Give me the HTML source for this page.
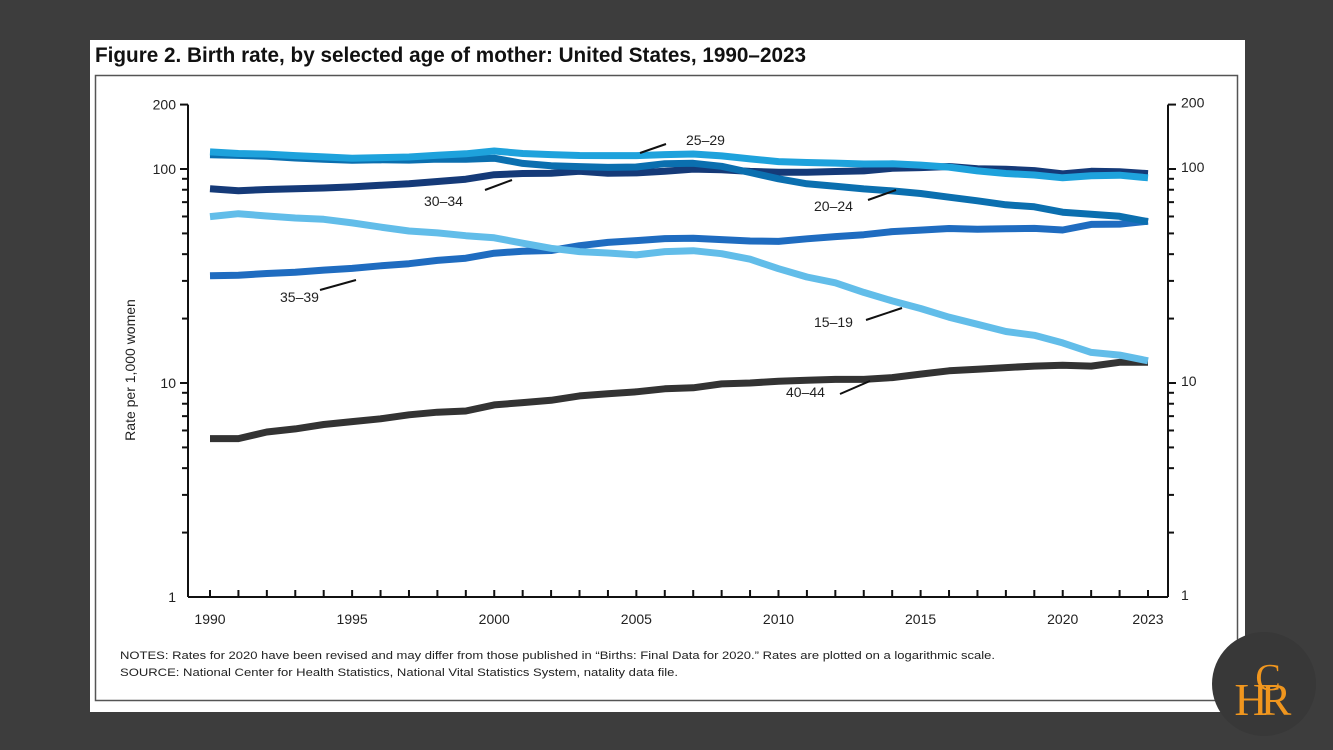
<!DOCTYPE html>
<html><head><meta charset="utf-8"><style>
html,body{margin:0;padding:0;background:#3d3d3d;}
svg{display:block;font-family:"Liberation Sans",sans-serif;}
</style></head><body>
<svg id="chart" width="1333" height="750" viewBox="0 0 1333 750">
<rect x="0" y="0" width="1333" height="750" fill="#3d3d3d"/>
<rect x="90" y="40" width="1155" height="672" fill="#fff"/>
<text x="95" y="62" font-size="21" font-weight="bold" fill="#111" textLength="711" lengthAdjust="spacingAndGlyphs">Figure 2. Birth rate, by selected age of mother: United States, 1990–2023</text>
<rect x="95.5" y="75.5" width="1142" height="625" fill="none" stroke="#555" stroke-width="1.5"/>
<g id="axes"></g>
<g id="series"></g>
<g id="labels"></g>
<text transform="translate(135,370) rotate(-90)" text-anchor="middle" font-size="14" fill="#222">Rate per 1,000 women</text>
<text x="120" y="659" font-size="11" fill="#222" textLength="875" lengthAdjust="spacingAndGlyphs">NOTES: Rates for 2020 have been revised and may differ from those published in “Births: Final Data for 2020.” Rates are plotted on a logarithmic scale.</text>
<text x="120" y="676" font-size="11" fill="#222" textLength="558" lengthAdjust="spacingAndGlyphs">SOURCE: National Center for Health Statistics, National Vital Statistics System, natality data file.</text>
<g>
<circle cx="1264" cy="684" r="52" fill="#383838"/>
<text x="1251" y="715" font-family="Liberation Serif,serif" font-size="46" fill="#f0961e" text-anchor="middle">H</text>
<text x="1276" y="715" font-family="Liberation Serif,serif" font-size="46" fill="#f0961e" text-anchor="middle">R</text>
<text x="1268" y="690" font-family="Liberation Serif,serif" font-size="38" fill="#f0961e" text-anchor="middle">C</text>
</g>
</svg>
<script>
const years = [];
for (let y = 1990; y <= 2023; y++) years.push(y);
const rate15_19 = [59.9,61.8,60.3,59.0,58.2,56.0,53.5,51.3,50.3,48.8,47.7,45.0,42.6,41.1,40.5,39.7,41.1,41.5,40.2,37.9,34.2,31.3,29.4,26.5,24.2,22.3,20.3,18.8,17.4,16.7,15.4,13.9,13.5,12.7];
const rate20_24 = [116.5,115.7,114.6,112.6,111.1,109.8,110.4,110.1,111.2,111.0,112.3,106.2,103.6,102.6,101.7,102.2,105.9,106.3,103.0,96.3,90.0,85.3,83.1,80.7,79.0,76.8,73.8,71.0,68.0,66.6,62.8,61.5,60.1,56.7];
const rate25_29 = [120.2,118.2,117.4,115.5,113.9,112.2,113.1,113.8,115.9,117.8,121.4,118.1,116.7,115.6,115.5,115.5,116.7,117.5,115.1,111.5,108.3,107.2,106.5,105.5,105.8,104.3,102.1,98.0,95.3,93.7,91.0,93.0,93.5,91.0];
const rate30_34 = [80.8,79.2,80.2,80.8,81.5,82.5,83.9,85.3,87.4,89.6,94.1,95.3,95.5,97.7,95.5,95.9,97.7,99.9,99.3,97.5,96.5,96.5,97.3,98.0,100.8,101.5,102.7,100.3,99.7,98.3,94.9,97.6,97.0,95.2];
const rate35_39 = [31.7,31.9,32.5,32.9,33.7,34.3,35.3,36.1,37.4,38.3,40.4,41.3,41.6,43.8,45.4,46.3,47.3,47.5,46.8,46.1,45.9,47.2,48.3,49.3,51.0,51.8,52.7,52.3,52.6,52.8,51.9,55.1,55.3,57.0];
const rate40_44 = [5.5,5.5,5.9,6.1,6.4,6.6,6.8,7.1,7.3,7.4,7.9,8.1,8.3,8.7,8.9,9.1,9.4,9.5,9.9,10.0,10.2,10.3,10.4,10.4,10.6,11.0,11.4,11.6,11.8,12.0,12.1,12.0,12.5,12.5];
const xTickLabels = ["1990","1995","2000","2005","2010","2015","2020","2023"];
const yTickLabels = ["1","10","100","200"];

const NS = "http://www.w3.org/2000/svg";
const X0 = 210, X1 = 1148, L = 188, R = 1168, YB = 597, DEC = 214;
const xs = yr => X0 + (yr - 1990) * (X1 - X0) / 33;
const ys = v => YB - DEC * Math.log10(v);
function mk(tag, attrs, parent) {
  const e = document.createElementNS(NS, tag);
  for (const k in attrs) e.setAttribute(k, attrs[k]);
  parent.appendChild(e);
  return e;
}
const axes = document.getElementById('axes');
const la = mk('line', {x1:L,y1:ys(200),x2:L,y2:YB,stroke:'#111','stroke-width':2}, axes);


const ra = mk('line', {x1:R,y1:ys(200),x2:R,y2:YB,stroke:'#111','stroke-width':2}, axes);


const xa = mk('line', {x1:L,y1:YB,x2:R,y2:YB,stroke:'#111','stroke-width':2}, axes);


const minor = [];
for (const d of [1,10]) for (let m = 2; m <= 9; m++) minor.push(d*m);
minor.push(200);
for (const v of minor.concat([10,100])) {
  const len = (v===10||v===100||v===200) ? 8 : 6;
  const t1 = mk('line', {x1:L-len,y1:ys(v),x2:L,y2:ys(v),stroke:'#111','stroke-width':2}, axes);
  
  
  const t2 = mk('line', {x1:R,y1:ys(v),x2:R+len,y2:ys(v),stroke:'#111','stroke-width':2}, axes);
  
  
}
for (const lab of yTickLabels) {
  const v = +lab;
  const a = mk('text', {x:L-12,y:ys(v)+5,'text-anchor':'end','font-size':14,fill:'#222'}, axes);
  a.textContent = lab;
  
  
  const b = mk('text', {x:R+13,y:ys(v)+3,'font-size':14,fill:'#222'}, axes);
  b.textContent = lab;
  
  
}
for (const yr of years) {
  const t = mk('line', {x1:xs(yr),y1:YB-7,x2:xs(yr),y2:YB,stroke:'#111','stroke-width':2}, axes);
  
  
}
for (const lab of xTickLabels) {
  const t = mk('text', {x:xs(+lab),y:624,'text-anchor':'middle','font-size':14,fill:'#222'}, axes);
  t.textContent = lab;
  
  
}
const seriesG = document.getElementById('series');
const seriesList = [
  [rate40_44, '#333333', 'line-40-44'],
  [rate35_39, '#1f6cc0', 'line-35-39'],
  [rate15_19, '#62bde9', 'line-15-19'],
  [rate30_34, '#153a78', 'line-30-34'],
  [rate20_24, '#0b6faf', 'line-20-24'],
  [rate25_29, '#1ea2dc', 'line-25-29']
];
for (const [arr, col, name] of seriesList) {
  const d = arr.map((v,i)=>(i?'L':'M')+xs(years[i]).toFixed(1)+','+ys(v).toFixed(1)).join(' ');
  const p = mk('path', {d:d,fill:'none',stroke:col,'stroke-width':7,'stroke-linejoin':'round'}, seriesG);
  
  
}
const labelsG = document.getElementById('labels');
const labs = [
  ['25–29', 686, 145, 640,153, 666,144],
  ['30–34', 424, 206, 485,190, 512,180],
  ['20–24', 814, 211, 868,200, 896,190],
  ['35–39', 280, 302, 320,290, 356,280],
  ['15–19', 814, 327, 866,320, 902,308],
  ['40–44', 786, 397, 840,394, 870,381]
];
for (const [t, tx, ty, a1,b1,a2,b2] of labs) {
  const l = mk('line', {x1:a1,y1:b1,x2:a2,y2:b2,stroke:'#111','stroke-width':2}, labelsG);
  
  
  const tt = mk('text', {x:tx,y:ty,'font-size':14,fill:'#222'}, labelsG);
  tt.textContent = t;
  
  
}
</script>
</body></html>
